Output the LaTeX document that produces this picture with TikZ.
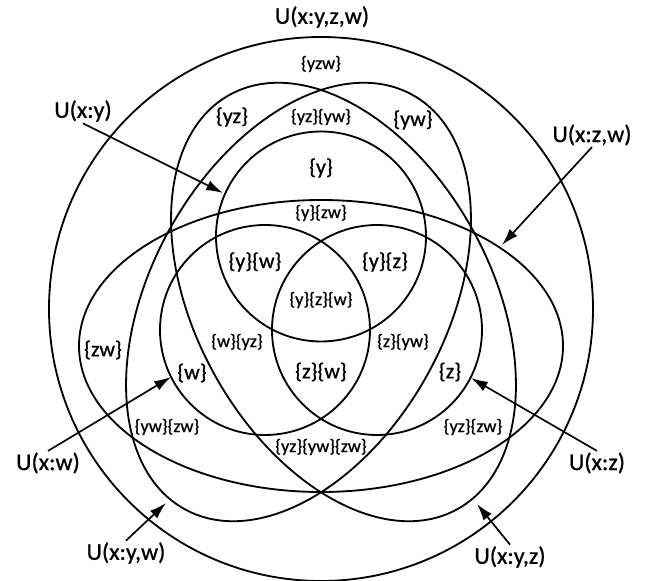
\documentclass[tikz,border=0pt]{standalone}
\usepackage{fontspec}
\setmainfont{Carlito}[BoldFont=Carlito, BoldFeatures={FakeBold=0.8}]
\usetikzlibrary{arrows.meta, calc, positioning}

\begin{document}
\begin{tikzpicture}[
    set/.style={line width=1.3pt},
    ptr/.style={line width=1.2pt, -{Latex[length=4.2mm, width=2.6mm]}},
    big/.style={font=\fontsize{17}{20}\selectfont\bfseries, inner sep=1pt},
    mid/.style={font=\fontsize{15.5}{18}\selectfont\bfseries, inner sep=1pt},
    small/.style={font=\fontsize{13}{15}\selectfont\bfseries, inner sep=1pt}
]
    \useasboundingbox (-8.025, -6.8) rectangle (8.275, 7.725);

    % 外层集合 U(x:y,z,w)
    \draw[set] (0, 0) circle (6.8);

    % 两个斜椭圆
    \draw[set, rotate around={61.3:(-0.5625, 0.175)}] (-0.5625, 0.175) ellipse (5.91 and 3.70);
    \draw[set, rotate around={-61.3:(0.5625, 0.175)}] (0.5625, 0.175) ellipse (5.91 and 3.70);

    % 横椭圆 U(x:z,w)
    \draw[set] (0, -0.925) ellipse (6.05 and 3.65);

    % 三个小圆
    \draw[set] (0, 1.8125) circle (2.625);
    \draw[set] (-1.4, -0.525) circle (2.625);
    \draw[set] (1.4, -0.525) circle (2.625);

    % 区域标记
    \node[small] (r1) at (0, 6.125) {\{yzw\}};
    \node[mid] (r2) at (-2.225, 4.8) {\{yz\}};
    \node[small] (r3) at (0, 4.8) {\{yz\}\{yw\}};
    \node[mid] (r4) at (2.3, 4.725) {\{yw\}};
    \node[mid] (r5) at (0, 3.525) {\{y\}};
    \node[small] (r6) at (0, 2.4) {\{y\}\{zw\}};
    \node[mid] (r7) at (-1.65, 1.175) {\{y\}\{w\}};
    \node[mid] (r8) at (1.6, 1.175) {\{y\}\{z\}};
    \node[small] (r9) at (0, 0.225) {\{y\}\{z\}\{w\}};
    \node[small] (r10) at (-2.1, -0.825) {\{w\}\{yz\}};
    \node[small] (r11) at (2.05, -0.825) {\{z\}\{yw\}};
    \node[mid] (r12) at (-5.45, -1.025) {\{zw\}};
    \node[mid] (r13) at (-3.225, -1.6) {\{w\}};
    \node[mid] (r14) at (0, -1.575) {\{z\}\{w\}};
    \node[mid] (r15) at (3.225, -1.575) {\{z\}};
    \node[small] (r16) at (-3.85, -2.95) {\{yw\}\{zw\}};
    \node[small] (r17) at (3.8, -2.95) {\{yz\}\{zw\}};
    \node[small] (r18) at (0, -3.45) {\{yz\}\{yw\}\{zw\}};

    % 集合名称
    \node[big] (uyzw) at (0.025, 7.3) {U(x:y,z,w)};
    \node[big] (uy) at (-5.95, 4.95) {U(x:y)};
    \node[big] (uzw) at (6.775, 4.35) {U(x:z,w)};
    \node[big] (uw) at (-6.825, -3.85) {U(x:w)};
    \node[big] (uz) at (6.9, -3.85) {U(x:z)};
    \node[big] (uyw) at (-4.875, -6.1) {U(x:y,w)};
    \node[big] (uyz) at (4.725, -6.2) {U(x:y,z)};

    % 箭头终点
    \coordinate (ty) at (-2.45, 2.9);
    \coordinate (tzw) at (4.525, 1.6);
    \coordinate (tw) at (-3.75, -1.7);
    \coordinate (tz) at (3.75, -1.725);
    \coordinate (tyw) at (-3.875, -4.85);
    \coordinate (tyz) at (3.9, -4.875);

    % 箭头
    \draw[ptr] (uy.south) -- (ty);
    \draw[ptr] (uzw.south) -- (tzw);
    \draw[ptr] (uw.north) -- (tw);
    \draw[ptr] (uz.north) -- (tz);
    \draw[ptr] (uyw.north) -- (tyw);
    \draw[ptr] (uyz.north) -- (tyz);
\end{tikzpicture}
\end{document}
